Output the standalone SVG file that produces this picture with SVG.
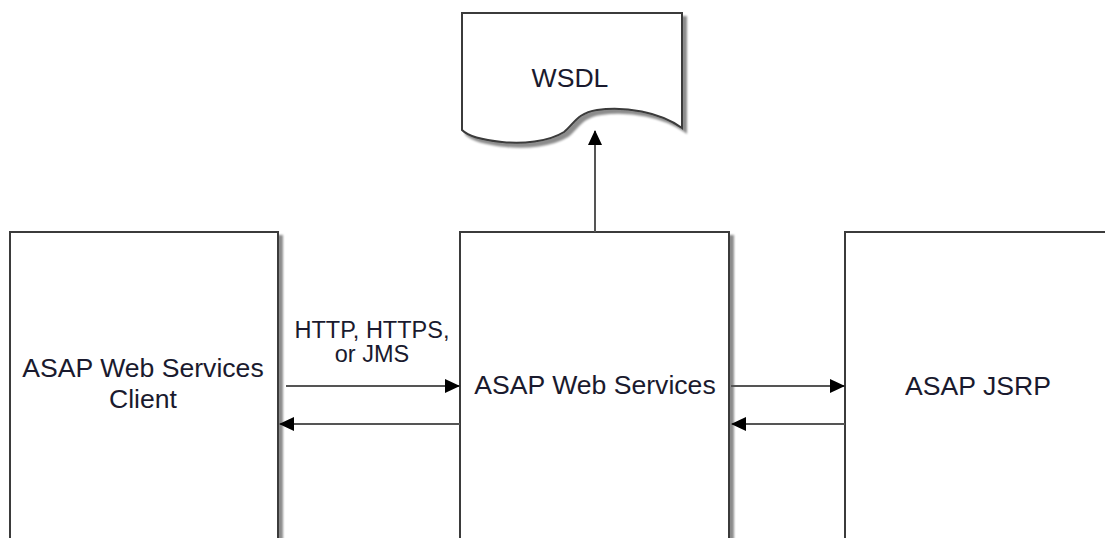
<svg xmlns="http://www.w3.org/2000/svg" width="1105" height="538" viewBox="0 0 1105 538">
<style>
.box{fill:#fff;stroke:#3a3a3a;stroke-width:2;filter:url(#sh)}
.t{font-family:"Liberation Sans",Arial,sans-serif;font-size:26.6px;fill:#1a1a2e;text-anchor:middle}
.lbl{font-family:"Liberation Sans",Arial,sans-serif;font-size:23.5px;fill:#1a1a2e;text-anchor:middle}
.c{stroke:#555;stroke-width:2;fill:none;marker-end:url(#ah)}
</style>
<defs>
<filter id="sh" x="-10%" y="-10%" width="130%" height="130%">
<feDropShadow dx="4" dy="4" stdDeviation="1.2" flood-color="#000" flood-opacity="0.45"/>
</filter>
<marker id="ah" markerWidth="15" markerHeight="14" refX="14" refY="7" orient="auto" markerUnits="userSpaceOnUse">
<path d="M0,0 L15,7 L0,14 Z" fill="#000"/>
</marker>
</defs>
<g id="wsdl">
<path class="box" d="M462,13 H682 V128 C660,112 625,106 597,110 C577,113 574,124 564,132 C548,142 522,144 502,142 C482,140 468,136 462,130 Z"/>
<text class="t" x="570" y="87">WSDL</text>
</g>
<g id="client">
<rect class="box" x="10" y="232" width="268" height="330"/>
<text class="t" x="143" y="377">ASAP Web Services<tspan x="143" dy="31">Client</tspan></text>
</g>
<g id="ws">
<rect class="box" x="460" y="232" width="269" height="330"/>
<text class="t" x="595" y="394">ASAP Web Services</text>
</g>
<g id="jsrp">
<rect class="box" x="845" y="232" width="280" height="330"/>
<text class="t" x="978" y="395">ASAP JSRP</text>
</g>
<g id="connectors">
<path class="c" d="M595,232 V131"/>
<path class="c" d="M286,386 H459"/>
<path class="c" d="M460,424 H280"/>
<path class="c" d="M731,386 H844"/>
<path class="c" d="M845,424 H732"/>
<text class="lbl" x="372" y="338">HTTP, HTTPS,<tspan x="372" dy="24">or JMS</tspan></text>
</g>
</svg>
